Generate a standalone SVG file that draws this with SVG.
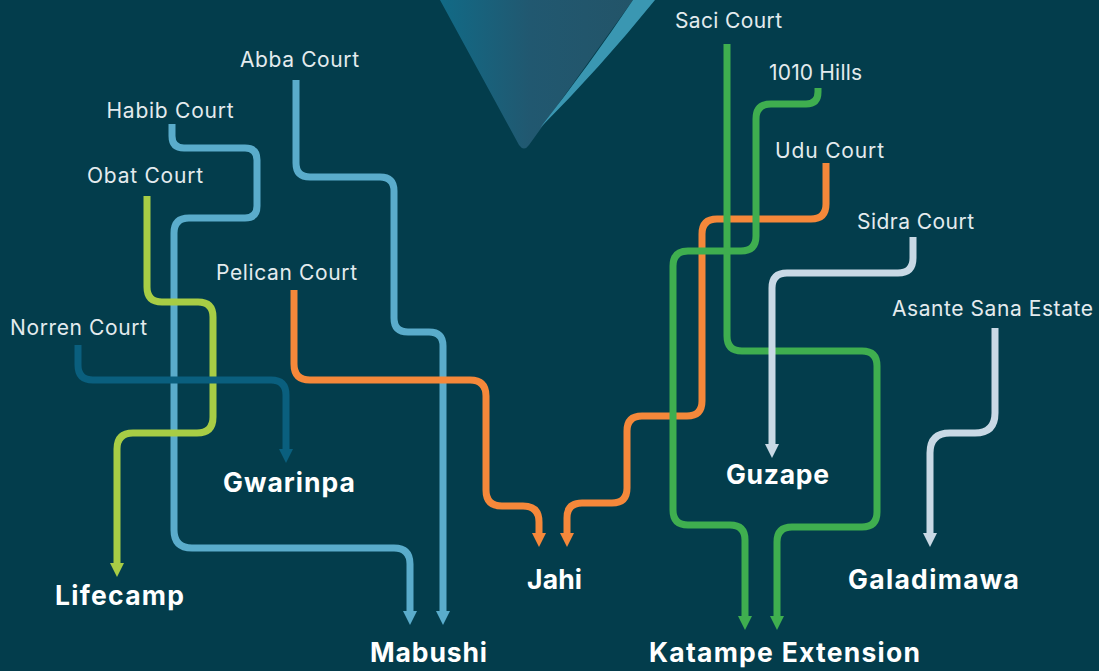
<svg xmlns="http://www.w3.org/2000/svg" width="1099" height="671" viewBox="0 0 1099 671">
<defs>
<linearGradient id="tri" x1="440" y1="0" x2="640" y2="0" gradientUnits="userSpaceOnUse">
<stop offset="0" stop-color="#116a86"/>
<stop offset="0.45" stop-color="#215870"/>
<stop offset="1" stop-color="#235468"/>
</linearGradient>
<marker id="a-lb" viewBox="0 0 14 14" refX="0" refY="7" markerWidth="14" markerHeight="14" markerUnits="userSpaceOnUse" orient="auto"><path d="M0,0 L14,7 L0,14 Z" fill="#5aaccb"/></marker>
<marker id="a-lime" viewBox="0 0 14 14" refX="0" refY="7" markerWidth="14" markerHeight="14" markerUnits="userSpaceOnUse" orient="auto"><path d="M0,0 L14,7 L0,14 Z" fill="#a8cd45"/></marker>
<marker id="a-db" viewBox="0 0 14 14" refX="0" refY="7" markerWidth="14" markerHeight="14" markerUnits="userSpaceOnUse" orient="auto"><path d="M0,0 L14,7 L0,14 Z" fill="#0a5f7e"/></marker>
<marker id="a-or" viewBox="0 0 14 14" refX="0" refY="7" markerWidth="14" markerHeight="14" markerUnits="userSpaceOnUse" orient="auto"><path d="M0,0 L14,7 L0,14 Z" fill="#f5883a"/></marker>
<marker id="a-gr" viewBox="0 0 14 14" refX="0" refY="7" markerWidth="14" markerHeight="14" markerUnits="userSpaceOnUse" orient="auto"><path d="M0,0 L14,7 L0,14 Z" fill="#3fae4f"/></marker>
<marker id="a-gy" viewBox="0 0 14 14" refX="0" refY="7" markerWidth="14" markerHeight="14" markerUnits="userSpaceOnUse" orient="auto"><path d="M0,0 L14,7 L0,14 Z" fill="#c9d9e5"/></marker>
</defs>
<style>
.ln{fill:none;stroke-width:7;stroke-linejoin:round}
.lb{stroke:#5aaccb}.lime{stroke:#a8cd45}.db{stroke:#0a5f7e}.or{stroke:#f5883a}.gr{stroke:#3fae4f}.gy{stroke:#c9d9e5}
.src{font-family:Inter,"Open Sans",sans-serif;font-size:21px;fill:#e4ebee;text-anchor:middle}
.dst{font-family:Inter,"Open Sans",sans-serif;font-size:26.5px;font-weight:700;fill:#ffffff;text-anchor:middle}
</style>
<rect width="1099" height="671" fill="#033d4c"/>
<path d="M440,0 L633,0 L529,145 Q524,152 519,145 Z" fill="url(#tri)"/>
<path d="M633,0 L655,0 Q600,68 540,128 Q590,64 633,0 Z" fill="#3a97b2"/>

<g id="connectors">
<path class="ln lb" marker-end="url(#a-lb)" d="M172,124 V136 Q172,148 184,148 H245 Q257,148 257,160 V206 Q257,218 245,218 H189 Q174,218 174,233 V530 Q174,548 192,548 H394 Q410,548 410,564 V611"/>
<path class="ln lb" marker-end="url(#a-lb)" d="M296,80 V163 Q296,177 310,177 H380 Q394,177 394,191 V318 Q394,332 408,332 H429 Q443,332 443,346 V611"/>
<path class="ln lime" marker-end="url(#a-lime)" d="M147,196 V287 Q147,302 162,302 H198 Q213,302 213,317 V417 Q213,433 197,433 H133 Q117,433 117,449 V563"/>
<path class="ln db" marker-end="url(#a-db)" d="M78,345 V365 Q78,380 93,380 H271 Q286,380 286,395 V449"/>
<path class="ln or" marker-end="url(#a-or)" d="M294,290 V364 Q294,380 310,380 H470 Q486,380 486,396 V490 Q486,506 502,506 H523 Q539,506 539,522 V533"/>
<path class="ln or" marker-end="url(#a-or)" d="M826,163 V204 Q826,219 811,219 H717 Q702,219 702,234 V401 Q702,416 687,416 H642 Q627,416 627,431 V488 Q627,503 612,503 H582 Q567,503 567,518 V533"/>
<path class="ln gr" marker-end="url(#a-gr)" d="M727,44 V336 Q727,351 742,351 H862 Q877,351 877,366 V512 Q877,527 862,527 H792 Q777,527 777,542 V616"/>
<path class="ln gr" marker-end="url(#a-gr)" d="M818,88 V92 Q818,104 806,104 H771 Q756,104 756,119 V236 Q756,251 741,251 H688 Q673,251 673,266 V510 Q673,525 688,525 H730 Q745,525 745,540 V616"/>
<path class="ln gy" marker-end="url(#a-gy)" d="M913,237 V258 Q913,273 898,273 H787 Q772,273 772,288 V444"/>
<path class="ln gy" marker-end="url(#a-gy)" d="M995,328 V413 Q995,433 975,433 H950 Q930,433 930,453 V533"/>
</g>

<g id="abba-court"><text class="src" x="299.5" y="67" textLength="119">Abba Court</text></g>
<g id="habib-court"><text class="src" x="170" y="118" textLength="127">Habib Court</text></g>
<g id="obat-court"><text class="src" x="145" y="183" textLength="116">Obat Court</text></g>
<g id="pelican-court"><text class="src" x="286.5" y="280" textLength="141">Pelican Court</text></g>
<g id="norren-court"><text class="src" x="78.5" y="335" textLength="137">Norren Court</text></g>
<g id="saci-court"><text class="src" x="728.5" y="28" textLength="107">Saci Court</text></g>
<g id="hills-1010"><text class="src" x="815.5" y="80" textLength="93">1010 Hills</text></g>
<g id="udu-court"><text class="src" x="829.5" y="158" textLength="109">Udu Court</text></g>
<g id="sidra-court"><text class="src" x="915.5" y="229" textLength="117">Sidra Court</text></g>
<g id="asante-sana-estate"><text class="src" x="992.5" y="316" textLength="201">Asante Sana Estate</text></g>

<g id="gwarinpa"><text class="dst" x="289" y="492" textLength="132">Gwarinpa</text></g>
<g id="lifecamp"><text class="dst" x="119.5" y="605" textLength="129">Lifecamp</text></g>
<g id="mabushi"><text class="dst" x="428.5" y="662" textLength="117">Mabushi</text></g>
<g id="jahi"><text class="dst" x="554.5" y="589" textLength="55">Jahi</text></g>
<g id="guzape"><text class="dst" x="777.5" y="484" textLength="103">Guzape</text></g>
<g id="galadimawa"><text class="dst" x="933.5" y="589" textLength="171">Galadimawa</text></g>
<g id="katampe-extension"><text class="dst" x="784.5" y="662" textLength="271">Katampe Extension</text></g>
</svg>
